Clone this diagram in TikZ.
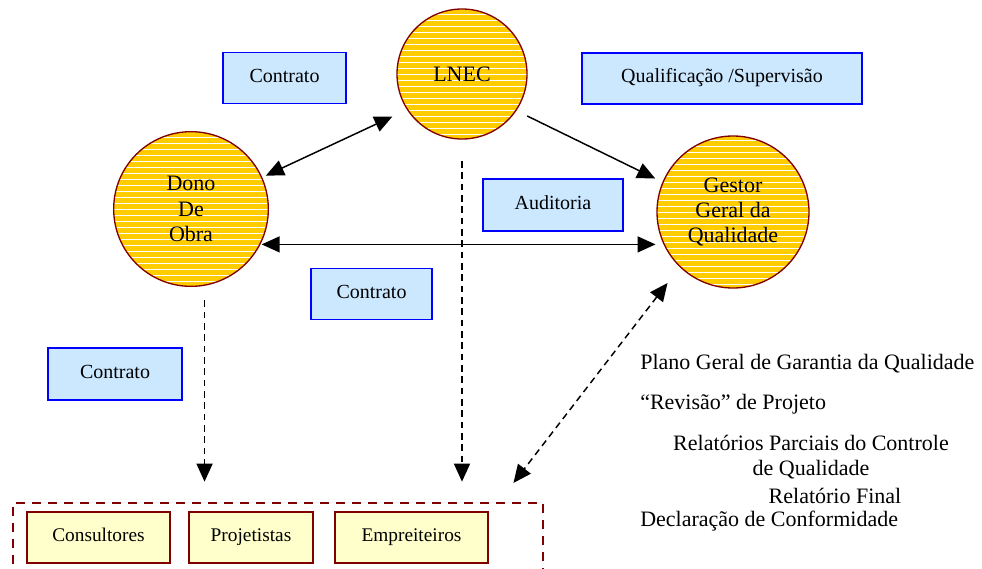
\documentclass[tikz,border=0pt]{standalone}
\usepackage{fontspec}
\setmainfont{Liberation Serif}
\usetikzlibrary{arrows.meta}
\definecolor{qaInk}{HTML}{000000}
\definecolor{qaGold}{HTML}{FFCC00}
\definecolor{qaRed}{HTML}{800000}
\definecolor{qaBlue}{HTML}{0000FF}
\definecolor{qaSky}{HTML}{CCE8FF}
\definecolor{qaCream}{HTML}{FFFFCC}
\tikzset{
  every picture/.style={font=\fontsize{16.5}{19}\selectfont, text=qaInk},
  qa circle/.style={circle, draw=qaRed, line width=1pt, fill=qaGold,
    align=center, inner sep=0pt,
    path picture={\foreach \k in {-14,...,14}
      \draw[white, line width=0.55pt]
        ([shift={(-110,\k*6)}]path picture bounding box.center) -- ++(220,0);}},
  qa label/.style={draw=qaBlue, line width=1.2pt, fill=qaSky,
    font=\fontsize{15}{18}\selectfont, minimum height=38pt,
    text height=1.75ex, text depth=0.3ex},
  qa team/.style={draw=qaRed, line width=1.2pt, fill=qaCream,
    font=\fontsize{14.5}{17}\selectfont, minimum height=38pt,
    text height=1.75ex, text depth=0.3ex},
  qa frame/.style={draw=qaRed, line width=2pt, dash pattern=on 7pt off 5pt},
  qa arrow/.style={{Triangle[length=13.5pt,width=12pt]}-{Triangle[length=13.5pt,width=12pt]},
    draw=qaInk, line width=1.1pt},
  qa flow/.style={-{Triangle[length=13.5pt,width=12pt]},
    draw=qaInk, line width=1.1pt},
  qa guide/.style={-{Triangle[length=13.5pt,width=12pt]},
    draw=qaInk, line width=1.2pt, dash pattern=on 5pt off 3.5pt},
  qa note/.style={inner sep=0pt}
}
\begin{document}
\begin{tikzpicture}[x=0.75pt,y=-0.75pt]
  \useasboundingbox (0,0) rectangle (982,568);
  \clip (0,0) rectangle (982,568);
  % main actors
  \node[qa circle, minimum size=97.5pt] (lnec) at (462,74) {LNEC};
  \node[qa circle, minimum size=116pt] (dono) at (191,209) {Dono\\De\\Obra};
  \node[qa circle, minimum size=114pt] (gestor) at (733,212) {Gestor\\Geral da\\Qualidade};
  % relation labels
  \node[qa label, minimum width=92pt] (contratoA) at (284.5,78) {Contrato};
  \node[qa label, minimum width=210pt] (qualif) at (722,78.5) {Qualifica\c{c}\~ao /Supervis\~ao};
  \node[qa label, minimum width=105pt, minimum height=39pt] (auditoria) at (553,205) {Auditoria};
  \node[qa label, minimum width=91pt] (contratoB) at (371.5,294) {Contrato};
  \node[qa label, minimum width=100.5pt, minimum height=39pt] (contratoC) at (115,374) {Contrato};
  % executing parties
  \node[qa frame, minimum width=397.5pt, minimum height=54pt] (team) at (278,539) {};
  \node[qa team, minimum width=107pt] (cons) at (98.5,537.5) {Consultores};
  \node[qa team, minimum width=93pt] (proj) at (251,537.5) {Projetistas};
  \node[qa team, minimum width=115pt] (empr) at (411.5,537.5) {Empreiteiros};
  \coordinate (qa end) at (498,503);
  % connectors
  \draw[qa arrow, shorten <=3pt, shorten >=12pt] (dono.24) -- (lnec.213);
  \draw[qa flow, shorten <=9pt, shorten >=6pt] (lnec.326) -- (gestor.157);
  \draw[qa arrow, shorten >=6pt] (dono.-25 |- gestor.205) -- (gestor.205);
  \draw[qa guide, shorten <=11pt, shorten >=15pt] (dono.-80) -- (dono.-80 |- team.north);
  \draw[qa guide, shorten <=16pt, shorten >=15pt] (lnec.south) -- (lnec.south |- team.north);
  \draw[qa arrow, dash pattern=on 5pt off 3.5pt, shorten <=15pt, shorten >=19pt] (gestor.226) -- (qa end);
  % deliverables
  \node[qa note, anchor=west] (plano) at (640,364) {Plano Geral de Garantia da Qualidade};
  \node[qa note, anchor=west] (revisao) at (640,404) {``Revis\~ao'' de Projeto};
  \node[qa note, align=center] (parciais) at (811,457) {Relat\'orios Parciais do Controle\\de Qualidade};
  \node[qa note] (final) at (835,496) {Relat\'orio Final};
  \node[qa note, anchor=west] (declaracao) at (640,521) {Declara\c{c}\~ao de Conformidade};
\end{tikzpicture}
\end{document}
